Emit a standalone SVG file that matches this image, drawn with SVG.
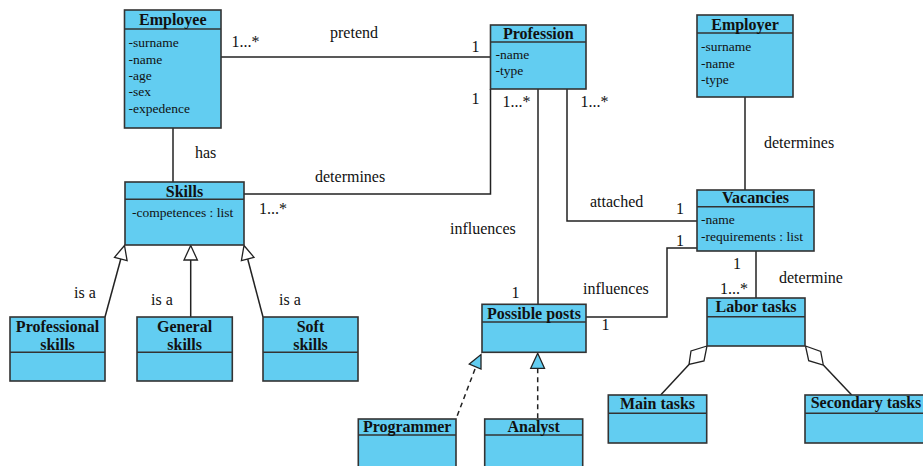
<svg xmlns="http://www.w3.org/2000/svg" width="923" height="466" viewBox="0 0 923 466">
<style>
.box{fill:#62CDF1;stroke:#333;stroke-width:1.6}
.sep{stroke:#333;stroke-width:1.6;fill:none}
.hd{font-family:"Liberation Serif",serif;font-weight:bold;font-size:16px;fill:#111;text-anchor:middle}
.at{font-family:"Liberation Serif",serif;font-size:13.5px;fill:#111}
.lb{font-family:"Liberation Serif",serif;font-size:16px;fill:#111}
.ln{stroke:#222;stroke-width:1.5;fill:none}
.dash{stroke:#222;stroke-width:1.5;fill:none;stroke-dasharray:5 4}
.gen{fill:#fff;stroke:#222;stroke-width:1.3}
.real{fill:#62CDF1;stroke:#222;stroke-width:1.3}
.agg{fill:#fff;stroke:#222;stroke-width:1.3}
</style>
<rect width="923" height="466" fill="#fff"/>
<g id="connectors">
  <path class="ln" d="M221,57 H490"/>
  <path class="ln" d="M173,128 V182"/>
  <path class="ln" d="M244,194 H490.5 V89"/>
  <path class="ln" d="M538,89 V304"/>
  <path class="ln" d="M567,89 V221 H697"/>
  <path class="ln" d="M745,97 V190"/>
  <path class="ln" d="M586,317 H667 V248 H697"/>
  <path class="ln" d="M756,251 V298"/>
  <path class="ln" d="M105,317 L120.8,259"/>
  <path class="ln" d="M190.7,260 V317"/>
  <path class="ln" d="M263,317 L247.7,259"/>
  <polygon class="gen" points="124.5,245.5 114.5,257.3 127.1,260.7"/>
  <polygon class="gen" points="190.7,245.5 184,260 197.4,260"/>
  <polygon class="gen" points="244,245.5 254,257.3 241.4,260.7"/>
  <path class="dash" d="M475,369 L456,419"/>
  <path class="dash" d="M537.7,368.3 V419"/>
  <polygon class="real" points="469.3,364 481,354.5 481,369"/>
  <polygon class="real" points="537.7,353.3 530.7,368.3 544.5,368.3"/>
  <path class="ln" d="M689,364.5 L660.7,395"/>
  <path class="ln" d="M823.3,365 L851.7,395"/>
  <polygon class="agg" points="707,346 691,351 689,364.5 704,361"/>
  <polygon class="agg" points="805.5,346 820.7,351.5 823.3,365 808.7,360.7"/>
  <text class="lb" x="330" y="38">pretend</text>
  <text class="lb" x="231.5" y="47">1...*</text>
  <text class="lb" x="471.5" y="52">1</text>
  <text class="lb" x="471.5" y="103.5">1</text>
  <text class="lb" x="195" y="158">has</text>
  <text class="lb" x="315" y="182">determines</text>
  <text class="lb" x="259" y="213.5">1...*</text>
  <text class="lb" x="502.5" y="107">1...*</text>
  <text class="lb" x="580.5" y="107">1...*</text>
  <text class="lb" x="764" y="148">determines</text>
  <text class="lb" x="590" y="207">attached</text>
  <text class="lb" x="676" y="213.5">1</text>
  <text class="lb" x="676" y="245.5">1</text>
  <text class="lb" x="450" y="234">influences</text>
  <text class="lb" x="511.5" y="297.5">1</text>
  <text class="lb" x="583" y="293.5">influences</text>
  <text class="lb" x="601.5" y="329.5">1</text>
  <text class="lb" x="733" y="268.5">1</text>
  <text class="lb" x="720" y="293.5">1...*</text>
  <text class="lb" x="779" y="282.5">determine</text>
  <text class="lb" x="74" y="298">is a</text>
  <text class="lb" x="151" y="305">is a</text>
  <text class="lb" x="279" y="305">is a</text>
</g>
<g id="employee">
  <rect class="box" x="124.5" y="10" width="96.5" height="118"/>
  <path class="sep" d="M124.5,29 H221"/>
  <text class="hd" x="172.8" y="24.5">Employee</text>
  <text class="at" x="128.5" y="47">-surname</text>
  <text class="at" x="128.5" y="63.5">-name</text>
  <text class="at" x="128.5" y="80">-age</text>
  <text class="at" x="128.5" y="96">-sex</text>
  <text class="at" x="128.5" y="112.5">-expedence</text>
</g>
<g id="profession">
  <rect class="box" x="490.5" y="25" width="95.5" height="64"/>
  <path class="sep" d="M490.5,42 H586"/>
  <text class="hd" x="538.3" y="38.5">Profession</text>
  <text class="at" x="495.5" y="58.5">-name</text>
  <text class="at" x="495.5" y="75">-type</text>
</g>
<g id="employer">
  <rect class="box" x="697" y="15" width="96" height="82"/>
  <path class="sep" d="M697,33 H793"/>
  <text class="hd" x="745" y="30">Employer</text>
  <text class="at" x="701" y="51">-surname</text>
  <text class="at" x="701" y="67.5">-name</text>
  <text class="at" x="701" y="84">-type</text>
</g>
<g id="vacancies">
  <rect class="box" x="697" y="190" width="117" height="61"/>
  <path class="sep" d="M697,206.7 H814"/>
  <text class="hd" x="755.5" y="203">Vacancies</text>
  <text class="at" x="701" y="224">-name</text>
  <text class="at" x="701" y="241">-requirements : list</text>
</g>
<g id="skills">
  <rect class="box" x="125" y="182" width="119" height="63"/>
  <path class="sep" d="M125,199.3 H244"/>
  <text class="hd" x="184.5" y="197">Skills</text>
  <text class="at" x="132" y="217">-competences : list</text>
</g>
<g id="professional-skills">
  <rect class="box" x="10" y="317" width="95" height="64"/>
  <path class="sep" d="M10,352.3 H105"/>
  <text class="hd" x="57.5" y="331.5">Professional</text>
  <text class="hd" x="57.5" y="350">skills</text>
</g>
<g id="general-skills">
  <rect class="box" x="137" y="317" width="95.3" height="64"/>
  <path class="sep" d="M137,352.3 H232.3"/>
  <text class="hd" x="184.6" y="331.5">General</text>
  <text class="hd" x="184.6" y="350">skills</text>
</g>
<g id="soft-skills">
  <rect class="box" x="263" y="317" width="95" height="64"/>
  <path class="sep" d="M263,352.3 H358"/>
  <text class="hd" x="310.5" y="331.5">Soft</text>
  <text class="hd" x="310.5" y="350">skills</text>
</g>
<g id="possible-posts">
  <rect class="box" x="482" y="304.3" width="104" height="48"/>
  <path class="sep" d="M482,322 H586"/>
  <text class="hd" x="534" y="318.5">Possible posts</text>
</g>
<g id="programmer">
  <rect class="box" x="358.3" y="419" width="97.7" height="60"/>
  <path class="sep" d="M358.3,435 H456"/>
  <text class="hd" x="407.2" y="432">Programmer</text>
</g>
<g id="analyst">
  <rect class="box" x="484.7" y="419" width="98" height="60"/>
  <path class="sep" d="M484.7,435 H582.7"/>
  <text class="hd" x="533.7" y="432">Analyst</text>
</g>
<g id="labor-tasks">
  <rect class="box" x="707" y="298" width="98" height="48"/>
  <path class="sep" d="M707,316.7 H805"/>
  <text class="hd" x="756" y="312">Labor tasks</text>
</g>
<g id="main-tasks">
  <rect class="box" x="608.3" y="395" width="98.4" height="48"/>
  <path class="sep" d="M608.3,413.3 H706.7"/>
  <text class="hd" x="657.5" y="408.5">Main tasks</text>
</g>
<g id="secondary-tasks">
  <rect class="box" x="805" y="395" width="122" height="48"/>
  <path class="sep" d="M805,413.3 H927"/>
  <text class="hd" x="866" y="408">Secondary tasks</text>
</g>
</svg>
